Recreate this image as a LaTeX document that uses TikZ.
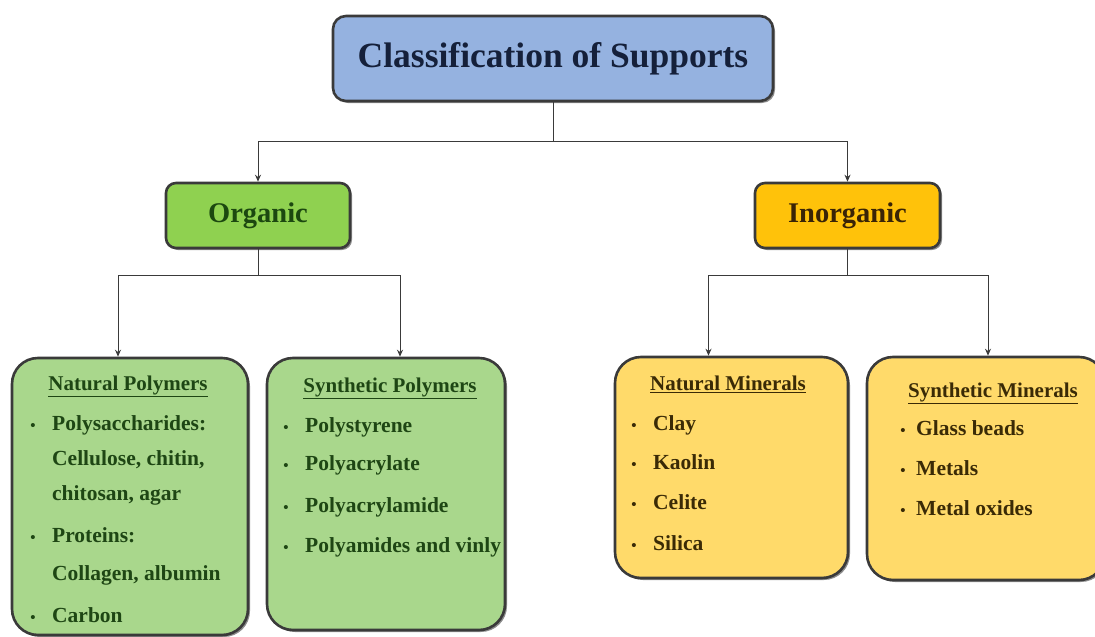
\documentclass[tikz,border=0pt]{standalone}
\usepackage{fontspec}
\setmainfont{Liberation Serif}
\usetikzlibrary{arrows.meta,shadows}
\definecolor{titlefill}{HTML}{95B2E0}
\definecolor{titletext}{HTML}{15203A}
\definecolor{orgfill}{HTML}{8FD150}
\definecolor{orgtext}{HTML}{1C4810}
\definecolor{inorgfill}{HTML}{FFC20A}
\definecolor{inorgtext}{HTML}{3A2406}
\definecolor{greenbox}{HTML}{A9D78C}
\definecolor{greentext}{HTML}{1E4614}
\definecolor{yellowbox}{HTML}{FFDA6A}
\definecolor{yellowtext}{HTML}{3A2A06}
\definecolor{edge}{HTML}{3A3A3A}
\tikzset{
  boxbase/.style={draw=edge, line width=2.6pt, inner sep=0pt,
    drop shadow={shadow xshift=2pt, shadow yshift=-2pt, opacity=0.45, fill=black}},
  titlebox/.style={boxbase, fill=titlefill, rounded corners=13pt, minimum width=440pt, minimum height=85pt,
    text=titletext, font=\bfseries\fontsize{35.5}{40}\selectfont},
  catbox/.style={boxbase, rounded corners=10pt, minimum width=184pt, minimum height=65pt,
    font=\bfseries\fontsize{28.5}{32}\selectfont},
  listbox/.style={boxbase, rounded corners=26pt},
  head/.style={inner sep=0pt, font=\bfseries\fontsize{21}{24}\selectfont},
  item/.style={inner sep=0pt, anchor=mid west, font=\bfseries\fontsize{21.5}{24}\selectfont},
  bul/.style={inner sep=0pt, anchor=mid, font=\bfseries\fontsize{15}{20}\selectfont},
  conn/.style={draw=edge, line width=1pt},
  arr/.style={conn, -{Stealth[length=7pt,width=6pt]}}
}
\begin{document}
\begin{tikzpicture}[x=1pt,y=-1pt]
\useasboundingbox (0,0) rectangle (1095,637);
\begin{scope}
\clip (0,0) rectangle (1095,637);
% boxes
\node[titlebox] (top) at (553,58.5) {Classification of Supports};
\node[catbox, fill=orgfill, text=orgtext] (org) at (258,215.5) {Organic};
\node[catbox, fill=inorgfill, text=inorgtext, minimum width=185pt] (inorg) at (847.5,215.5) {Inorganic};
\node[listbox, fill=greenbox, minimum width=236pt, minimum height=277pt] (np) at (130,496.5) {};
\node[listbox, fill=greenbox, minimum width=238pt, minimum height=272pt] (sp) at (386,494) {};
\node[listbox, fill=yellowbox, minimum width=233pt, minimum height=221pt] (nm) at (731.5,467.5) {};
\node[listbox, fill=yellowbox, minimum width=238pt, minimum height=223pt] (sm) at (986,468.5) {};
% connectors
\coordinate (j1) at (553,141);
\coordinate (j2) at (258,275);
\coordinate (j3) at (847.5,275);
\draw[conn] (top.south) -- (j1);
\draw[arr] (j1) -| (org.north);
\draw[arr] (j1) -| (inorg.north);
\draw[conn] (org.south) -- (j2);
\draw[arr] (j2) -| ([xshift=-12pt]np.north);
\draw[arr] (j2) -| ([xshift=14pt]sp.north);
\draw[conn] (inorg.south) -- (j3);
\draw[arr] (j3) -| ([xshift=-23pt]nm.north);
\draw[arr] (j3) -| ([xshift=2pt]sm.north);
% Natural Polymers
\begin{scope}[every node/.append style={text=greentext}]
\node[head] (nph) at (128,386) {\underline{Natural Polymers}};
\node[bul] (npb1) at (33,428) {•};
\node[item] (np1) at (52,428) {Polysaccharides:};
\node[item] (np2) at (52,463) {Cellulose, chitin,};
\node[item] (np3) at (52,498) {chitosan, agar};
\node[bul] (npb2) at (33,540) {•};
\node[item] (np4) at (52,540) {Proteins:};
\node[item] (np5) at (52,578) {Collagen, albumin};
\node[bul] (npb3) at (33,620) {•};
\node[item] (np6) at (52,620) {Carbon};
% Synthetic Polymers
\node[head] (sph) at (390,388) {\underline{Synthetic Polymers}};
\node[bul] (spb1) at (286,430) {•};
\node[item] (sp1) at (305,430) {Polystyrene};
\node[bul] (spb2) at (286,468) {•};
\node[item] (sp2) at (305,468) {Polyacrylate};
\node[bul] (spb3) at (286,510) {•};
\node[item] (sp3) at (305,510) {Polyacrylamide};
\node[bul] (spb4) at (286,550) {•};
\node[item] (sp4) at (305,550) {Polyamides and vinly};
\end{scope}
\begin{scope}[every node/.append style={text=yellowtext}]
% Natural Minerals
\node[head] (nmh) at (728,384) {\underline{Natural Minerals}};
\node[bul] (nmb1) at (634,428) {•};
\node[item] (nm1) at (653,428) {Clay};
\node[bul] (nmb2) at (634,467) {•};
\node[item] (nm2) at (653,467) {Kaolin};
\node[bul] (nmb3) at (634,507) {•};
\node[item] (nm3) at (653,507) {Celite};
\node[bul] (nmb4) at (634,548) {•};
\node[item] (nm4) at (653,548) {Silica};
% Synthetic Minerals
\node[head] (smh) at (993,393) {\underline{Synthetic Minerals}};
\node[bul] (smb1) at (903,433) {•};
\node[item] (sm1) at (916,433) {Glass beads};
\node[bul] (smb2) at (903,473) {•};
\node[item] (sm2) at (916,473) {Metals};
\node[bul] (smb3) at (903,513) {•};
\node[item] (sm3) at (916,513) {Metal oxides};
\end{scope}
\end{scope}
\end{tikzpicture}
\end{document}
